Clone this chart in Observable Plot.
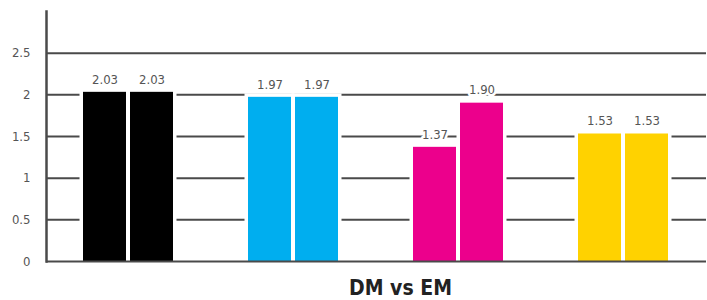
<!DOCTYPE html>
<html><head><meta charset="utf-8">
<script src="https://cdn.jsdelivr.net/npm/d3@7"></script>
<script src="https://cdn.jsdelivr.net/npm/@observablehq/plot@0.6"></script>
<style>
body{margin:0;background:#fff;}
#wrap{position:relative;width:707px;height:300px;}
#title{position:absolute;left:0;top:278px;width:707px;padding-left:94px;box-sizing:border-box;text-align:center;font-family:'DejaVu Sans Condensed','DejaVu Sans',sans-serif;font-weight:bold;font-size:21px;line-height:21px;color:#222;}
</style></head><body>
<div id="wrap"><div id="chart"></div><div id="title">DM vs EM</div></div>
<script>
const groups = ["K", "C", "M", "Y"];
const series = ["DM", "EM"];
const dmValues = [2.03, 1.97, 1.37, 1.53];
const emValues = [2.03, 1.97, 1.90, 1.53];
const colors = ["#000000", "#00AEEF", "#EC008C", "#FFD200"];
const yTicks = [0, 0.5, 1, 1.5, 2, 2.5];

const data = groups.flatMap((g, i) => [
  {group: g, series: "DM", value: dmValues[i]},
  {group: g, series: "EM", value: emValues[i]}
]);

const plot = Plot.plot({
  width: 707, height: 270,
  marginLeft: 44, marginRight: 0, marginTop: 11, marginBottom: 9,
  style: {fontFamily: "'DejaVu Sans Condensed','DejaVu Sans',sans-serif", fontSize: "13px", background: "white", color: "#555"},
  fx: {domain: groups, padding: 0, axis: null},
  x: {domain: series, paddingInner: 0.0833, paddingOuter: 0.771, axis: null},
  y: {domain: [0, 3], axis: null},
  color: {type: "ordinal", domain: groups, range: colors},
  marks: [
    Plot.ruleY(yTicks.filter(d => d > 0), {stroke: "#4a4a4a", strokeWidth: 2}),
    Plot.barY(data, {fx: "group", x: "series", y: "value", fill: "white", insetLeft: -3.5, insetRight: -3.5, insetTop: -3.5}),
    Plot.barY(data, {fx: "group", x: "series", y: "value", fill: {value: "group", scale: "color"}}),
    Plot.ruleY([0], {stroke: "#4a4a4a", strokeWidth: 2}),
    Plot.frame({anchor: "left", facetAnchor: "left", stroke: "#4a4a4a", strokeWidth: 2.5}),
    Plot.axisY({ticks: yTicks, tickSize: 0, tickPadding: 16, tickFormat: d => String(d), fill: "#555", label: null}),
    Plot.text(data, {fx: "group", x: "series", y: "value", text: d => d.value.toFixed(2), dy: -13, fill: "#555", stroke: "white", strokeWidth: 5})
  ]
});
document.getElementById("chart").appendChild(plot);
</script>
</body></html>
